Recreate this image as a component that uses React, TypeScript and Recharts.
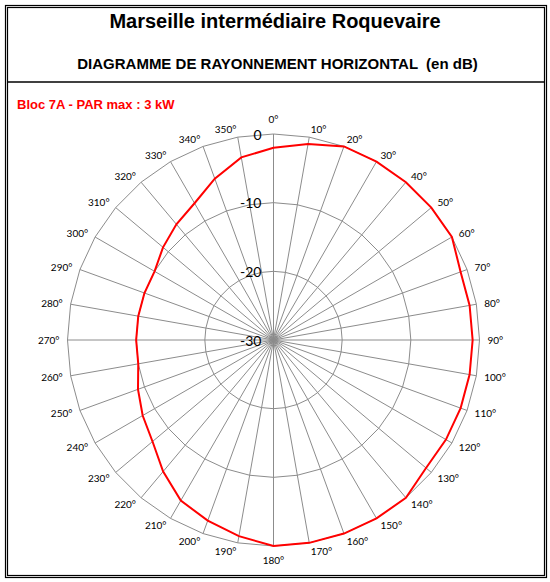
import React from 'react';
import { RadarChart, Radar, PolarGrid, PolarAngleAxis, PolarRadiusAxis } from 'recharts';

// azimuts, de 0° à 350° par pas de 10°
const ANGLES = [
  '0°', '10°', '20°', '30°', '40°', '50°', '60°', '70°', '80°', '90°', '100°', '110°',
  '120°', '130°', '140°', '150°', '160°', '170°', '180°', '190°', '200°', '210°', '220°', '230°',
  '240°', '250°', '260°', '270°', '280°', '290°', '300°', '310°', '320°', '330°', '340°', '350°',
];

// atténuation relevée (dB)
const LEVELS = [
  -2, -1, 0, 0, 0, 0, 0, -1, -1, -1, -1, -1,
  -1, -1, 0, 0, 0, 0, 0, -1, -2, -3, -5, -7,
  -8, -9, -10, -10, -10, -10, -10, -9, -8, -7, -5, -3,
];

const DB_DOMAIN = [-30, 0];

const CX = 273.5;
const CY = 340;
const RADIUS = 206;

const data = ANGLES.map((angle, i) => ({ angle, level: LEVELS[i] }));

const AngleTick = (props: any) => {
  const { x, y, payload } = props;
  const dx = x - CX;
  let anchor: 'start' | 'middle' | 'end' = 'middle';
  if (dx > 1) anchor = 'start';
  else if (dx < -1) anchor = 'end';
  let yy = y;
  if (anchor === 'middle') yy = y + (y < CY ? -7 : 6);
  return (
    <text x={x} y={yy} textAnchor={anchor} dominantBaseline="central" fontSize={10} fontFamily="Lato" fill="#000">
      {payload.value}
    </text>
  );
};

const RadiusTick = (props: any) => {
  const { x, y, payload } = props;
  return (
    <text x={x - 12} y={y} textAnchor="end" dominantBaseline="central" fontSize={14} fontFamily="Lato" fill="#000">
      {payload.value}
    </text>
  );
};

export default function App() {
  return (
    <div style={{ position: 'absolute', left: 0, top: 0, width: 550, height: 582, background: '#fff' }}>
      <svg width={550} height={582} style={{ position: 'absolute', left: 0, top: 0 }}>
        <rect x={5.5} y={5.5} width={541} height={572} fill="none" stroke="#000" strokeWidth={1.2} />
        <rect x={7.5} y={7.5} width={537} height={568} fill="none" stroke="#000" strokeWidth={1.2} />
        <line x1={7.5} y1={82} x2={544.5} y2={82} stroke="#000" strokeWidth={1.6} />
        <text x={275} y={28} textAnchor="middle" fontFamily="Liberation Sans" fontWeight="bold" fontSize={20}>
          Marseille intermédiaire Roquevaire
        </text>
        <text x={277.5} y={69} textAnchor="middle" fontFamily="Liberation Sans" fontWeight="bold" fontSize={15} xmlSpace="preserve">
          DIAGRAMME DE RAYONNEMENT HORIZONTAL  (en dB)
        </text>
        <text x={17} y={109} fontFamily="Liberation Sans" fontWeight="bold" fontSize={13} fill="#ff0000">
          Bloc 7A - PAR max : 3 kW
        </text>
      </svg>
      <div style={{ position: 'absolute', left: 0, top: 0 }}>
        <RadarChart
          width={550}
          height={582}
          data={data}
          cx={CX}
          cy={CY}
          outerRadius={RADIUS}
          margin={{ top: 0, right: 0, bottom: 0, left: 0 }}
        >
          <PolarGrid gridType="polygon" stroke="#8c8c8c" strokeWidth={1} />
          <PolarAngleAxis dataKey="angle" tick={<AngleTick />} tickLine={false} axisLine={false} />
          <PolarRadiusAxis
            angle={90}
            domain={DB_DOMAIN}
            tickCount={4}
            axisLine={false}
            tick={<RadiusTick />}
          />
          <Radar
            dataKey="level"
            stroke="#ff0000"
            strokeWidth={2}
            fill="none"
            fillOpacity={0}
            dot={false}
            isAnimationActive={false}
          />
        </RadarChart>
      </div>
    </div>
  );
}
